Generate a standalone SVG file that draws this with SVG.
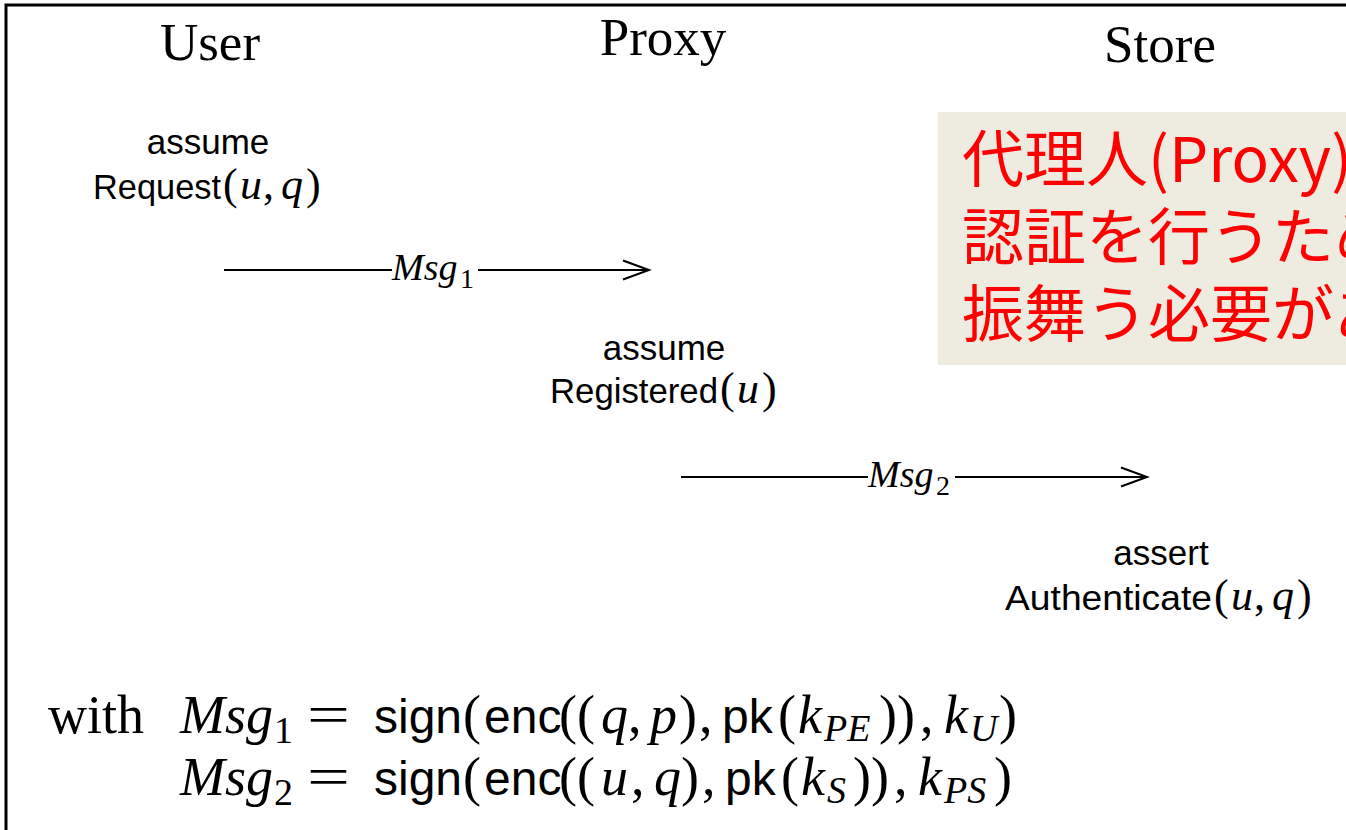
<svg xmlns="http://www.w3.org/2000/svg" width="1346" height="830" viewBox="0 0 1346 830">
<defs>
<style>
.title{font-family:"Liberation Serif",serif;font-size:53px;fill:#000;text-anchor:middle}
.sans{font-family:"Liberation Sans",sans-serif;font-size:35px;fill:#000}
.m{font-family:"Liberation Serif",serif;font-size:44px;fill:#000}
.mi{font-style:italic}
.lbl{font-family:"Liberation Serif",serif;font-style:italic;font-size:38px;fill:#000}
.sub{font-family:"Liberation Serif",serif;font-style:normal;font-size:28px;fill:#000}
.line{stroke:#000;stroke-width:2;fill:none}
.fs{font-family:"Liberation Sans",sans-serif;font-size:48px;fill:#000}
.fm{font-family:"Liberation Serif",serif;font-size:54px;fill:#000}
.fi{font-family:"Liberation Serif",serif;font-style:italic;font-size:54px;fill:#000}
.fsub{font-family:"Liberation Serif",serif;font-size:38px;fill:#000}
.note{font-family:"Noto Sans CJK JP",sans-serif;font-size:62px;fill:#ff0000}
</style>
<marker id="arr" markerWidth="30" markerHeight="22" refX="27" refY="11" orient="auto" markerUnits="userSpaceOnUse">
<path d="M1,1.5 L27,11 L1,20.5" fill="none" stroke="#000" stroke-width="2"/>
</marker>
</defs>
<rect width="1346" height="830" fill="#fff"/>
<path d="M6,830 L6,5 L1346,5" fill="none" stroke="#000" stroke-width="3"/>

<g id="user"><text class="title" x="210" y="60">User</text></g>
<g id="proxy"><text class="title" x="663" y="55">Proxy</text></g>
<g id="store"><text class="title" x="1160" y="62">Store</text></g>

<g id="user-assume">
<text class="sans" x="208" y="154" text-anchor="middle">assume</text>
<text class="sans" x="93" y="199" textLength="128" lengthAdjust="spacingAndGlyphs">Request</text>
<text class="m" y="199"><tspan x="223">(</tspan><tspan class="mi" x="240">u</tspan><tspan x="263">,</tspan><tspan class="mi" x="281">q</tspan><tspan x="306">)</tspan></text>
</g>
<g id="proxy-assume">
<text class="sans" x="664" y="360" text-anchor="middle">assume</text>
<text class="sans" x="550" y="403" textLength="168" lengthAdjust="spacingAndGlyphs">Registered</text>
<text class="m" y="403"><tspan x="720">(</tspan><tspan class="mi" x="737">u</tspan><tspan x="762">)</tspan></text>
</g>
<g id="store-assert">
<text class="sans" x="1161" y="565" text-anchor="middle">assert</text>
<text class="sans" x="1005" y="610" textLength="207" lengthAdjust="spacingAndGlyphs">Authenticate</text>
<text class="m" y="610"><tspan x="1214">(</tspan><tspan class="mi" x="1231">u</tspan><tspan x="1254">,</tspan><tspan class="mi" x="1272">q</tspan><tspan x="1297">)</tspan></text>
</g>

<g id="connectors">
<line class="line" x1="224" y1="270" x2="392" y2="270"/>
<line class="line" x1="478" y1="270" x2="649" y2="270" marker-end="url(#arr)"/>
<text class="lbl" x="392" y="280">Msg<tspan class="sub" x="460" y="288">1</tspan></text>
<line class="line" x1="681" y1="477" x2="868" y2="477"/>
<line class="line" x1="955" y1="477" x2="1147" y2="477" marker-end="url(#arr)"/>
<text class="lbl" x="868" y="487">Msg<tspan class="sub" x="936" y="495">2</tspan></text>
</g>

<g id="note">
<rect x="938" y="112" width="420" height="253" fill="#eeebe0"/>
<text class="note" x="962" y="182">代理人(Proxy)</text>
<text class="note" x="962" y="260">認証を行うため</text>
<text class="note" x="962" y="337">振舞う必要があ</text>
</g>

<g id="formula">
<text class="fm" x="48" y="733" font-size="52">with</text>
<text class="fi" x="180" y="733" font-size="56">Msg</text>
<text class="fsub" x="274" y="743">1</text>
<text class="fm" x="307" y="733" textLength="43" lengthAdjust="spacingAndGlyphs">=</text>
<text class="fs" x="374" y="733">sign</text>
<text class="fm" y="733"><tspan x="463">(</tspan><tspan x="559">((</tspan><tspan class="fi" x="601">q</tspan><tspan x="628">,</tspan><tspan class="fi" x="650">p</tspan><tspan x="679">)</tspan><tspan x="699">,</tspan><tspan x="778">(</tspan><tspan x="879">))</tspan><tspan x="920">,</tspan><tspan x="999">)</tspan></text>
<text class="fs" x="484" y="733">enc</text>
<text class="fs" x="722" y="733">pk</text>
<text class="fi" x="798" y="733">k</text>
<text class="fsub" x="824" y="741" font-style="italic">PE</text>
<text class="fi" x="944" y="733">k</text>
<text class="fsub" x="970" y="741" font-style="italic">U</text>

<text class="fi" x="180" y="795" font-size="56">Msg</text>
<text class="fsub" x="274" y="805">2</text>
<text class="fm" x="307" y="795" textLength="43" lengthAdjust="spacingAndGlyphs">=</text>
<text class="fs" x="374" y="795">sign</text>
<text class="fm" y="795"><tspan x="463">(</tspan><tspan x="559">((</tspan><tspan class="fi" x="601">u</tspan><tspan x="631">,</tspan><tspan class="fi" x="654">q</tspan><tspan x="681">)</tspan><tspan x="702">,</tspan><tspan x="781">(</tspan><tspan x="853">))</tspan><tspan x="894">,</tspan><tspan x="994">)</tspan></text>
<text class="fs" x="484" y="795">enc</text>
<text class="fs" x="725" y="795">pk</text>
<text class="fi" x="801" y="795">k</text>
<text class="fsub" x="827" y="803" font-style="italic">S</text>
<text class="fi" x="918" y="795">k</text>
<text class="fsub" x="944" y="803" font-style="italic">PS</text>
</g>
</svg>
